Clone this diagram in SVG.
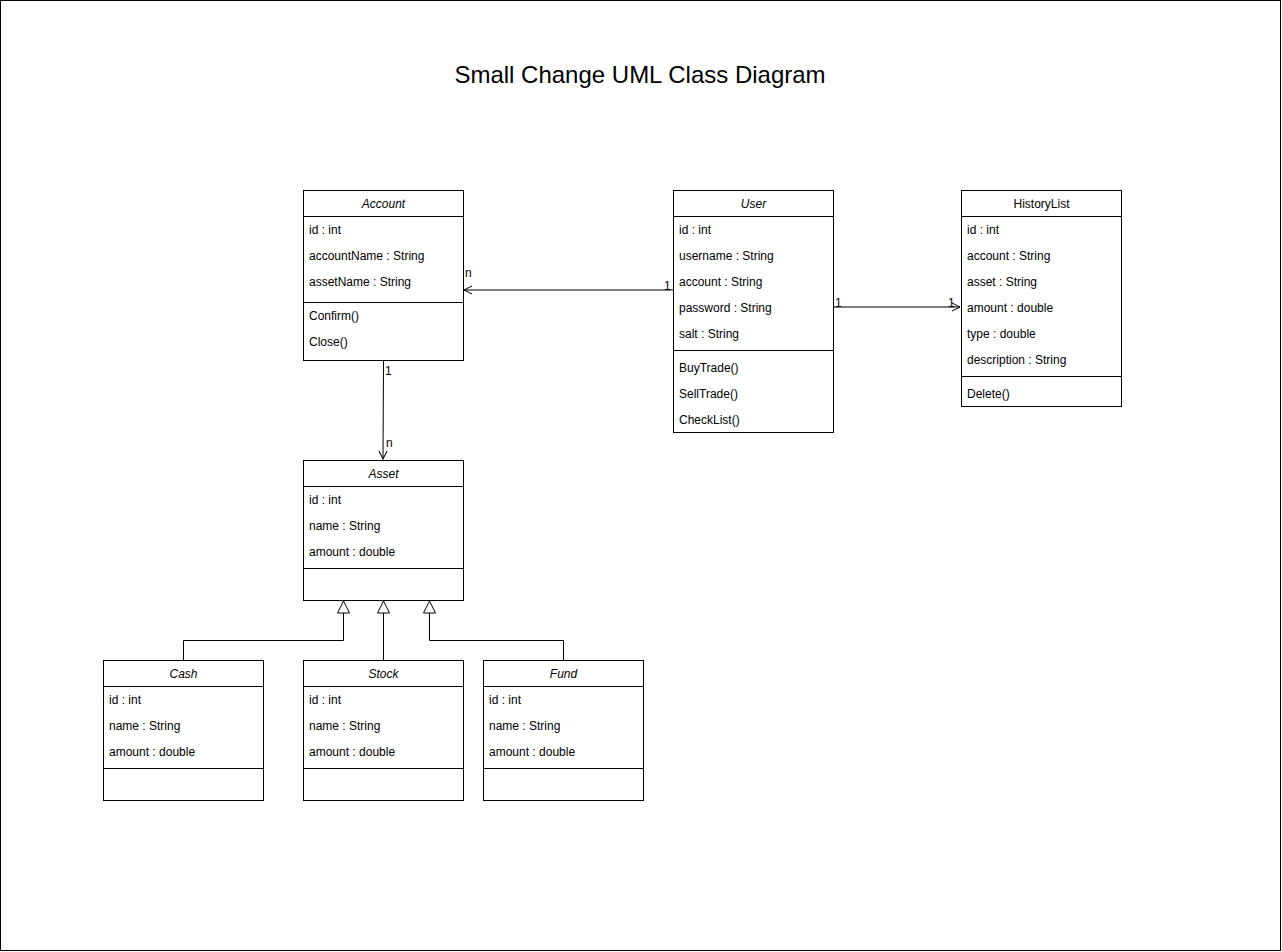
<svg xmlns="http://www.w3.org/2000/svg" width="1282" height="952" viewBox="0 0 1282 952">
<style>
text{font-family:"Liberation Sans",Arial,Helvetica,sans-serif;font-size:12px;fill:#000}
.t{text-anchor:middle;font-style:italic}
.tn{text-anchor:middle}
.box{fill:#fff;stroke:#000;stroke-width:1}
.ln{stroke:#000;stroke-width:1;fill:none}
.title{font-size:24px;text-anchor:middle}
</style>
<defs>
<marker id="open" viewBox="0 0 10 10" refX="9" refY="5" markerWidth="10" markerHeight="10" markerUnits="userSpaceOnUse" orient="auto">
<path d="M1,1 L9,5 L1,9" fill="none" stroke="#000" stroke-width="1"/>
</marker>
<marker id="tri" viewBox="0 0 14 14" refX="13" refY="7" markerWidth="14" markerHeight="14" markerUnits="userSpaceOnUse" orient="auto">
<path d="M1,1 L13,7 L1,13 Z" fill="#fff" stroke="#000" stroke-width="1"/>
</marker>
</defs>
<rect x="0.5" y="0.5" width="1280" height="950" fill="#fff" stroke="#000"/>
<text class="title" x="640" y="83">Small Change UML Class Diagram</text>

<g id="connectors">
<path class="ln" d="M673,290 L464,290" marker-end="url(#open)"/>
<path class="ln" d="M833.5,307 L960,307" marker-end="url(#open)"/>
<path class="ln" d="M383.5,360 L383,459" marker-end="url(#open)"/>
<path class="ln" d="M183.5,660 L183.5,640.5 L343.5,640.5 L343.5,601" marker-end="url(#tri)"/>
<path class="ln" d="M383.5,660 L383.5,601" marker-end="url(#tri)"/>
<path class="ln" d="M563.5,660 L563.5,640.5 L429.5,640.5 L429.5,601" marker-end="url(#tri)"/>
<text x="465" y="277">n</text>
<text x="664" y="290">1</text>
<text x="835" y="307">1</text>
<text x="948" y="307">1</text>
<text x="385" y="375">1</text>
<text x="386" y="447">n</text>
</g>

<g id="account">
<rect class="box" x="303.5" y="190.5" width="160" height="170"/>
<path class="ln" d="M303.5,216.5 H463.5 M303.5,302.5 H463.5"/>
<text class="t" x="383.5" y="208">Account</text>
<text x="309" y="234">id : int</text>
<text x="309" y="260">accountName : String</text>
<text x="309" y="286">assetName : String</text>
<text x="309" y="320">Confirm()</text>
<text x="309" y="346">Close()</text>
</g>

<g id="user">
<rect class="box" x="673.5" y="190.5" width="160" height="242"/>
<path class="ln" d="M673.5,216.5 H833.5 M673.5,350.5 H833.5"/>
<text class="t" x="753.5" y="208">User</text>
<text x="679" y="234">id : int</text>
<text x="679" y="260">username : String</text>
<text x="679" y="286">account : String</text>
<text x="679" y="312">password : String</text>
<text x="679" y="338">salt : String</text>
<text x="679" y="372">BuyTrade()</text>
<text x="679" y="398">SellTrade()</text>
<text x="679" y="424">CheckList()</text>
</g>

<g id="historylist">
<rect class="box" x="961.5" y="190.5" width="160" height="216"/>
<path class="ln" d="M961.5,216.5 H1121.5 M961.5,376.5 H1121.5"/>
<text class="tn" x="1041.5" y="208">HistoryList</text>
<text x="967" y="234">id : int</text>
<text x="967" y="260">account : String</text>
<text x="967" y="286">asset : String</text>
<text x="967" y="312">amount : double</text>
<text x="967" y="338">type : double</text>
<text x="967" y="364">description : String</text>
<text x="967" y="398">Delete()</text>
</g>

<g id="asset">
<rect class="box" x="303.5" y="460.5" width="160" height="140"/>
<path class="ln" d="M303.5,486.5 H463.5 M303.5,568.5 H463.5"/>
<text class="t" x="383.5" y="478">Asset</text>
<text x="309" y="504">id : int</text>
<text x="309" y="530">name : String</text>
<text x="309" y="556">amount : double</text>
</g>

<g id="cash">
<rect class="box" x="103.5" y="660.5" width="160" height="140"/>
<path class="ln" d="M103.5,686.5 H263.5 M103.5,768.5 H263.5"/>
<text class="t" x="183.5" y="678">Cash</text>
<text x="109" y="704">id : int</text>
<text x="109" y="730">name : String</text>
<text x="109" y="756">amount : double</text>
</g>

<g id="stock">
<rect class="box" x="303.5" y="660.5" width="160" height="140"/>
<path class="ln" d="M303.5,686.5 H463.5 M303.5,768.5 H463.5"/>
<text class="t" x="383.5" y="678">Stock</text>
<text x="309" y="704">id : int</text>
<text x="309" y="730">name : String</text>
<text x="309" y="756">amount : double</text>
</g>

<g id="fund">
<rect class="box" x="483.5" y="660.5" width="160" height="140"/>
<path class="ln" d="M483.5,686.5 H643.5 M483.5,768.5 H643.5"/>
<text class="t" x="563.5" y="678">Fund</text>
<text x="489" y="704">id : int</text>
<text x="489" y="730">name : String</text>
<text x="489" y="756">amount : double</text>
</g>
</svg>
